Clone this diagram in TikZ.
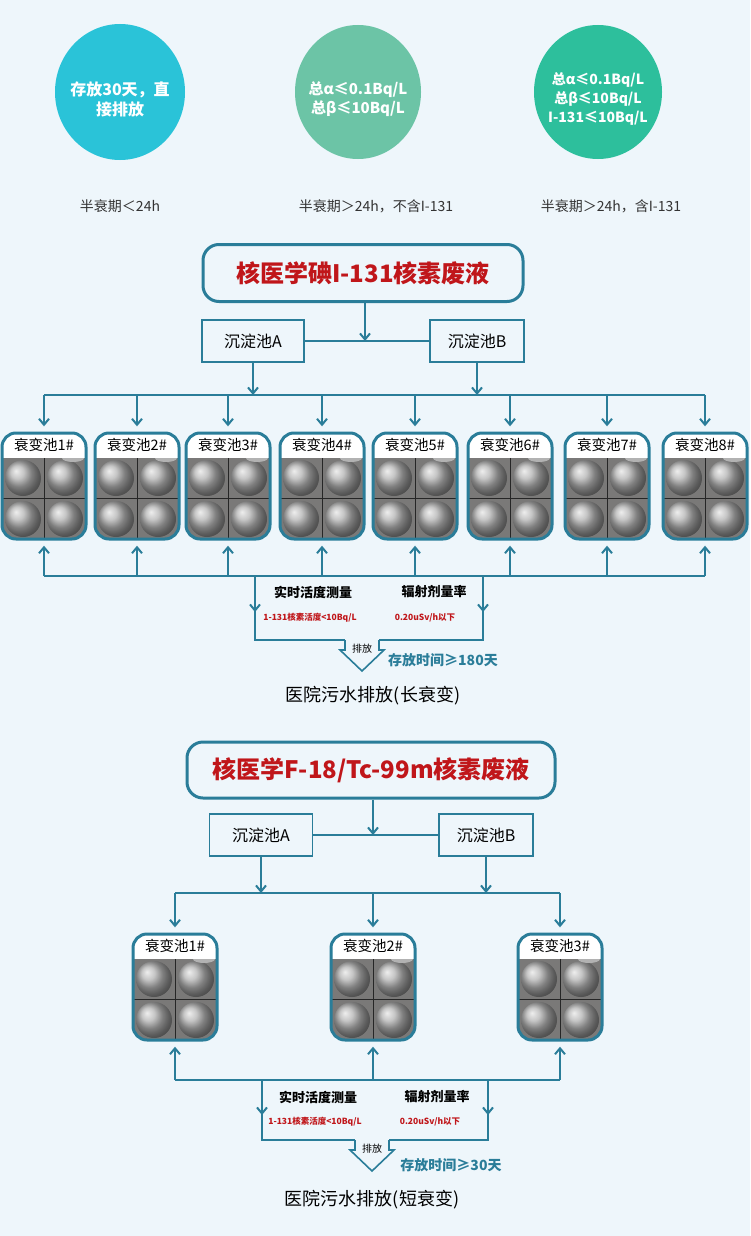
\documentclass[tikz,border=0pt]{standalone}
\usepackage{fontspec}
\setmainfont{Noto Sans CJK SC}
\usetikzlibrary{arrows.meta,shadings}
\definecolor{tl}{HTML}{2A7D99}
\definecolor{bg}{HTML}{EEF6FB}
\definecolor{rd}{HTML}{C0161A}
\definecolor{cA}{HTML}{2AC3D8}
\definecolor{cB}{HTML}{6CC4A6}
\definecolor{cC}{HTML}{2DBF9C}
\definecolor{gr}{HTML}{7A7978}
\tikzset{
 ln/.style={draw=tl,line width=2pt},
 arr/.style={ln,-{Straight Barb[length=6pt,width=10pt,line width=2pt]}},
 tbox/.style={draw=tl,line width=1.8pt,fill=bg,minimum height=42pt,font=\fontsize{16}{16}\selectfont},
 title/.style={draw=tl,line width=3pt,rounded corners=16pt,fill=bg,text=rd,font=\fontsize{24}{24}\selectfont\bfseries},
 captxt/.style={font=\fontsize{14}{14}\selectfont,text=black!80},
 ctxt/.style={text=white,font=\fontsize{16}{20}\selectfont\bfseries,align=center},
 tankn/.style={minimum width=85pt,minimum height=107pt,inner sep=0pt},
 mtxt/.style={font=\fontsize{13}{13}\selectfont\bfseries},
 rtxt/.style={font=\fontsize{8.5}{8.5}\selectfont\bfseries,text=rd},
}
\newcommand\tankat[4]{%
 \node[tankn] (#1) at (#2,#3) {};
 \begin{scope}[shift={(#2,#3)}]
  \begin{scope}
   \clip[rounded corners=14pt] (-42,-53) rectangle (42,53);
   \fill[white] (-42,-53) rectangle (42,-28);
   \fill[gr] (-42,-28) rectangle (42,53);
   \draw[gray!30!black,line width=1pt] (0,-28) -- (0,53) (-42,12.5) -- (42,12.5);
   \foreach \a in {-21,21} \foreach \b in {-8,33}
     \shade[ball color=gray!55,opacity=0.95] (\a,\b) circle (18);
   \fill[gray!60] (18,-28) arc[start angle=180,end angle=0,x radius=11,y radius=4] -- cycle;
  \end{scope}
  \draw[tl,line width=3pt,rounded corners=14pt] (-42,-53) rectangle (42,53);
  \node[font=\fontsize{14.5}{14.5}\selectfont] at (0,-41) {#4};
 \end{scope}}
\newcommand\dischargearrow[3]{%
 \draw[tl,line width=1.6pt,fill=bg] (#1-17,#2) -- (#1-17,#2+10) -- (#1-22,#2+10) -- (#1,#2+31) -- (#1+22,#2+10) -- (#1+17,#2+10) -- (#1+17,#2);
 \node[font=\fontsize{10}{10}\selectfont] (#3) at (#1,#2+9) {排放};}
\begin{document}
\begin{tikzpicture}[x=1pt,y=-1pt]
\fill[bg] (0,0) rectangle (750,1236);
\useasboundingbox (0,0) rectangle (750,1236);
% circles
\fill[cA] (120,92) ellipse (65 and 68);
\fill[cB] (358,92) ellipse (63 and 67);
\fill[cC] (598,92) ellipse (64 and 67);
\node[ctxt] (c1) at (120,99) {存放30天，直\\接排放};
\node[ctxt,font=\fontsize{15}{19}\selectfont\bfseries] (c2) at (358,99) {总α≤0.1Bq/L\\总β≤10Bq/L};
\node[ctxt,font=\fontsize{14}{19}\selectfont\bfseries] (c3) at (598,99) {总α≤0.1Bq/L\\总β≤10Bq/L\\I-131≤10Bq/L};
\node[captxt] (k1) at (120,206) {半衰期＜24h};
\node[captxt] (k2) at (376,206) {半衰期＞24h，不含I-131};
\node[captxt] (k3) at (611,206) {半衰期＞24h，含I-131};

% ===== section 1
\node[title,minimum width=320pt,minimum height=57pt] (T1) at (363,273) {核医学碘I-131核素废液};
\coordinate (j1) at (365,341);
\draw[arr] (T1.south -| j1) -- (j1);
\node[tbox,minimum width=102pt] (A1) at (253,341) {沉淀池A};
\node[tbox,minimum width=94pt] (B1) at (477,341) {沉淀池B};
\draw[ln] (A1.east) -- (B1.west);
\coordinate (L1) at (44,395); \coordinate (R1) at (705,395);
\draw[ln] (L1) -- (R1);
\draw[arr] (A1.south) -- (A1.south |- L1);
\draw[arr] (B1.south) -- (B1.south |- L1);
\foreach \x [count=\i] in {44,137,228,322,415,510,607,705}{
  \tankat{u\i}{\x}{486}{衰变池\i\#}
  \coordinate (ut\i) at (\x,395);
  \coordinate (ub\i) at (\x,576);
  \draw[arr,shorten >=6pt] (ut\i) -- (u\i.north);
  \draw[arr,shorten >=6pt] (ub\i) -- (u\i.south);
}
\draw[ln] (ub1) -- (ub8);
\coordinate (m1) at (255,576); \coordinate (m2) at (483,576);
\coordinate (m3) at (255,640); \coordinate (m4) at (483,640);
\draw[arr] (m1) -- (255,612);
\draw[arr] (m2) -- (483,612);
\draw[ln] (255,610) -- (m3) -- (345,640) (379,640) -- (m4) -- (483,610);
\node[mtxt] (p1) at (313,592) {实时活度测量};
\node[mtxt] (p2) at (434,592) {辐射剂量率};
\node[rtxt] (p3) at (310,618) {1-131核素活度<10Bq/L};
\node[rtxt] (p4) at (425,618) {0.20uSv/h以下};
\dischargearrow{362}{640}{x1}
\node[font=\fontsize{14}{14}\selectfont\bfseries,text=tl] (s1) at (443,660) {存放时间≥180天};
\node[font=\fontsize{18}{18}\selectfont] (o1) at (373,696) {医院污水排放(长衰变)};

% ===== section 2
\node[title,minimum width=368pt,minimum height=56pt] (T2) at (371,770) {核医学F-18/Tc-99m核素废液};
\coordinate (j2) at (373,835);
\draw[arr] (T2.south -| j2) -- (j2);
\node[tbox,minimum width=103pt] (A2) at (261,835) {沉淀池A};
\node[tbox,minimum width=94pt] (B2) at (486,835) {沉淀池B};
\draw[ln] (A2.east) -- (B2.west);
\coordinate (L2) at (175,893); \coordinate (R2) at (560,893);
\draw[ln] (L2) -- (R2);
\draw[arr] (A2.south) -- (A2.south |- L2);
\draw[arr] (B2.south) -- (B2.south |- L2);
\foreach \x [count=\i] in {175,373,560}{
  \tankat{v\i}{\x}{987}{衰变池\i\#}
  \coordinate (vt\i) at (\x,893);
  \coordinate (vb\i) at (\x,1080);
  \draw[arr,shorten >=6pt] (vt\i) -- (v\i.north);
  \draw[arr,shorten >=6pt] (vb\i) -- (v\i.south);
}
\draw[ln] (vb1) -- (vb3);
\coordinate (n1) at (262,1080); \coordinate (n2) at (488,1080);
\draw[arr] (n1) -- (262,1115);
\draw[arr] (n2) -- (488,1115);
\draw[ln] (262,1113) -- (262,1140) -- (355,1140) (389,1140) -- (488,1140) -- (488,1113);
\node[mtxt] (q1) at (318,1097) {实时活度测量};
\node[mtxt] (q2) at (437,1097) {辐射剂量率};
\node[rtxt] (q3) at (315,1122) {1-131核素活度<10Bq/L};
\node[rtxt] (q4) at (430,1122) {0.20uSv/h以下};
\dischargearrow{372}{1140}{x2}
\node[font=\fontsize{14}{14}\selectfont\bfseries,text=tl] (s2) at (451,1165) {存放时间≥30天};
\node[font=\fontsize{18}{18}\selectfont] (o2) at (372,1200) {医院污水排放(短衰变)};
\end{tikzpicture}
\end{document}
